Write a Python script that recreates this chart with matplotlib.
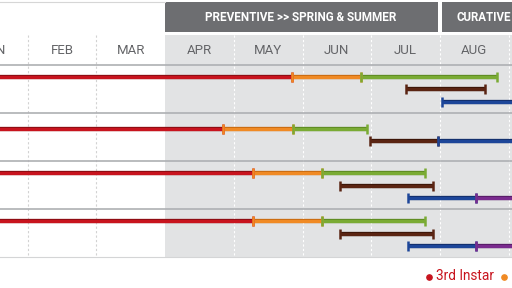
import matplotlib
matplotlib.use("Agg")
import matplotlib.pyplot as plt
import matplotlib.patheffects as pe
from matplotlib.patches import Rectangle

# months on the x axis (0 = start of JAN)
months = ['JAN', 'FEB', 'MAR', 'APR', 'MAY', 'JUN', 'JUL', 'AUG']

# stage spans per row (in months)
larva3_end = [4.85, 3.84, 4.28, 4.28]
pupa_end = [5.85, 4.86, 5.28, 5.28]
adult_end = [7.83, 5.94, 6.78, 6.78]
egg_start = [6.51, 5.98, 5.55, 5.55]
egg_end = [7.66, 6.97, 6.90, 6.90]
first_start = [7.03, 6.97, 6.54, 6.54]
first_end = [8.6, 8.6, 7.52, 7.52]
second_end = [None, None, 8.8, 8.8]
first_lane = [2, 1, 2, 2]

legend_labels = ['3rd Instar', 'Pupa', 'Adult', 'Egg', '1st Instar', '2nd Instar']

c_red = '#c8141e'
c_orange = '#f08a24'
c_green = '#7aab34'
c_brown = '#5a2412'
c_blue = '#1d4699'
c_purple = '#7a2b8e'
edge = {c_red: '#8a0d12', c_orange: '#c96a10', c_green: '#5e8a22',
        c_brown: '#3a1508', c_blue: '#122e6a', c_purple: '#561c66'}

font = 'Roboto'

fig = plt.figure(figsize=(5.12, 2.88), dpi=100)
ax = fig.add_axes([0, 0, 1, 1])
x0 = 41 / 68.7
x1 = 553 / 68.7
ax.set_xlim(x0, x1)
ax.set_ylim(288, 0)
ax.axis('off')

# shaded season area and header boxes
ax.add_patch(Rectangle((3, 35), 7, 222, color='#e2e3e4', lw=0, zorder=0))
ax.add_patch(Rectangle((3, 2), 3.97, 30, color='#6d6e71', lw=0, zorder=1))
ax.add_patch(Rectangle((7.03, 2), 3, 30, color='#6d6e71', lw=0, zorder=1))
ax.plot([x0, 3], [1.5, 1.5], color='#d6d6d6', lw=0.8)
ax.text(4.98, 17.5, 'PREVENTIVE >> SPRING & SUMMER', color='white', fontsize=8.5,
        fontweight='bold', family=font, ha='center', va='center', zorder=2)
ax.text(7.24, 17.5, 'CURATIVE', color='white', fontsize=8.3,
        fontweight='bold', family=font, ha='left', va='center', zorder=2)

# month grid
for m in range(1, 9):
    col = '#d2d2d2' if m < 3 else 'white'
    if m != 3:
        ax.plot([m, m], [35, 257], color=col, lw=0.8, ls=(0, (2, 2)), zorder=1)
for i, name in enumerate(months):
    ax.text(i + 0.5, 50, name, color='#646568', fontsize=9.5, family=font,
            ha='center', va='center', zorder=2)

for y in [65, 113, 160.5, 208.5]:
    ax.plot([x0, x1], [y, y], color='#aeb0b3', lw=1.2, zorder=1)
ax.plot([x0, x1], [257, 257], color='#d4d5d6', lw=0.8, zorder=1)


def seg(a, b, y, c):
    ax.plot([a, b], [y, y], color=c, lw=2.3, solid_capstyle='butt', zorder=3,
            path_effects=[pe.Stroke(linewidth=3.1, foreground=edge[c]), pe.Normal()])
    ax.plot([a, b], [y, y], ls='none', marker='|', ms=7, mew=1.8, color=c,
            zorder=4)


row_y = [76.5, 128.5, 173, 221]
for r, y in enumerate(row_y):
    seg(0, larva3_end[r], y, c_red)
    seg(larva3_end[r], pupa_end[r], y, c_orange)
    seg(pupa_end[r], adult_end[r], y, c_green)
    seg(egg_start[r], egg_end[r], y + 12.5, c_brown)
    yb = y + 12.5 * first_lane[r]
    seg(first_start[r], first_end[r], yb, c_blue)
    if second_end[r] is not None:
        seg(first_end[r], second_end[r], yb, c_purple)

# legend
leg_colors = [c_red, c_orange, c_green, c_brown, c_blue, c_purple]
lx = 6.84
for lab, c in zip(legend_labels, leg_colors):
    ax.plot(lx, 276.5, 'o', ms=3.8, color=c, clip_on=False)
    ax.text(lx + 0.1, 276.5, lab, color=c, fontsize=9.8, family=font,
            ha='left', va='center')
    lx += 1.09

fig.savefig('out.png', dpi=100)
